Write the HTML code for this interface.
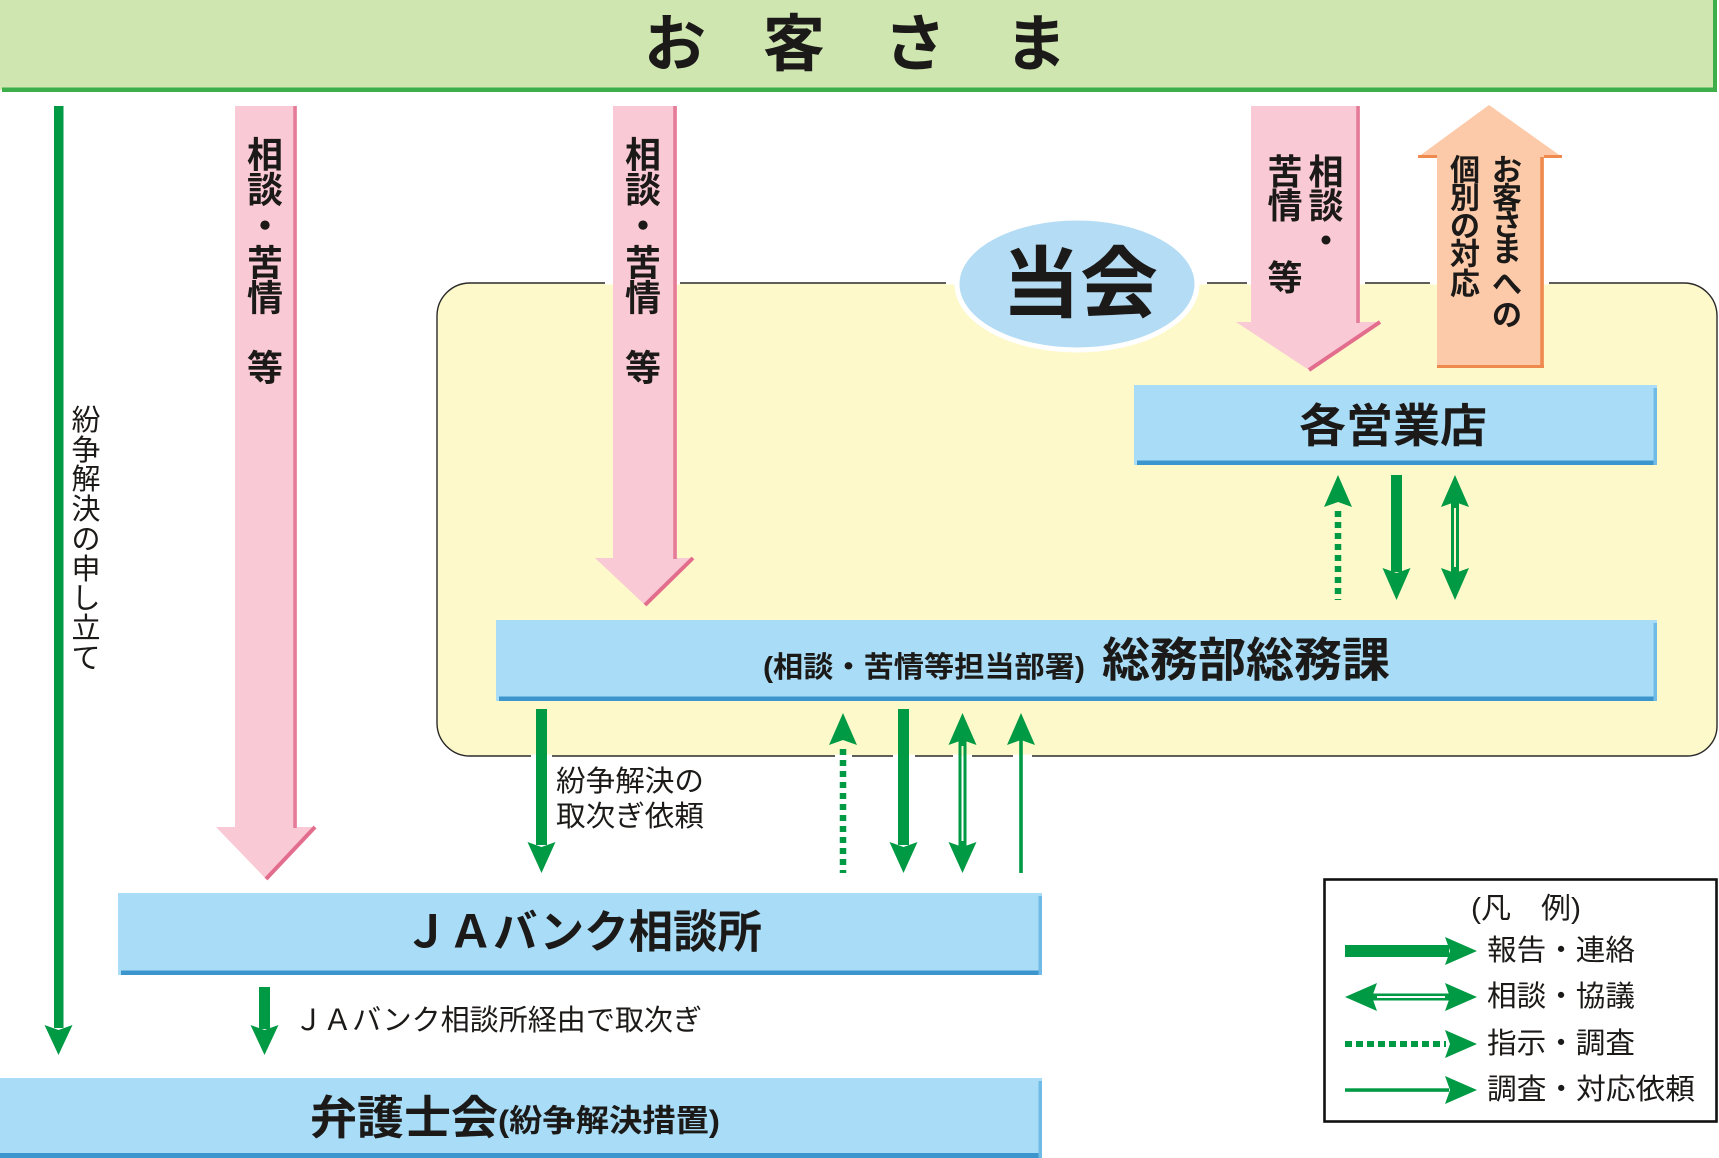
<!DOCTYPE html>
<html><head><meta charset="utf-8"><style>
html,body{margin:0;padding:0;background:#fff;}
svg{display:block;}
text{font-family:"Liberation Sans","Noto Sans CJK JP",sans-serif;fill:#1c1a18;}
.b{font-weight:700;}
</style></head><body>
<svg width="1719" height="1158" viewBox="0 0 1719 1158" xmlns="http://www.w3.org/2000/svg">
<!-- banner -->
<rect x="0" y="0" width="1716" height="90" fill="#cfe6b1"/>
<rect x="2" y="87.5" width="1715" height="4.5" fill="#3cae4a"/>
<rect x="1713" y="0" width="4" height="92" fill="#3cae4a"/>
<g class="b" font-size="62" text-anchor="middle" dominant-baseline="central">
<text x="675" y="45" class="b">お</text><text x="794" y="45" class="b">客</text><text x="915" y="45" class="b">さ</text><text x="1036" y="45" class="b">ま</text>
</g>

<!-- yellow area -->
<path d="M470,283 H1684 A33,33 0 0 1 1717,316 V726 A30,30 0 0 1 1687,756 H470 A33,33 0 0 1 437,723 V316 A33,33 0 0 1 470,283 Z" fill="#fdf9ca" stroke="#2a2a2a" stroke-width="1.4"/>
<!-- gaps in border -->
<g stroke="#ffffff" stroke-width="3">
<line x1="605" y1="283" x2="614" y2="283"/>
<line x1="677" y1="283" x2="680" y2="283"/>
<line x1="946" y1="283" x2="960" y2="283"/>
<line x1="1195" y1="283" x2="1207" y2="283"/>
<line x1="1247" y1="283" x2="1252" y2="283"/>
<line x1="1360" y1="283" x2="1365" y2="283"/>
<line x1="1430" y1="283" x2="1438" y2="283"/>
<line x1="1544" y1="283" x2="1549" y2="283"/>
<line x1="531" y1="756" x2="552" y2="756"/>
<line x1="835" y1="756" x2="852" y2="756"/>
<line x1="893" y1="756" x2="915" y2="756"/>
<line x1="953" y1="756" x2="972" y2="756"/>
<line x1="1013" y1="756" x2="1032" y2="756"/>
</g>

<!-- left green line -->
<g fill="#009944">
<rect x="54" y="106" width="9.5" height="922"/>
<polygon points="44.5,1025 58.5,1030 72.5,1025 58.5,1055"/>
</g>
<g font-size="29" text-anchor="middle" dominant-baseline="central">
<text x="86" y="421">紛</text><text x="86" y="451">争</text><text x="86" y="480">解</text><text x="86" y="510">決</text><text x="86" y="540">の</text><text x="86" y="570">申</text><text x="86" y="599">し</text><text x="86" y="629">立</text><text x="86" y="659">て</text>
</g>

<!-- pink arrow 1 -->
<polygon points="235,106 297,106 297,827 315,827 266,879 216,827 235,827" fill="#f9c9d5"/>
<line x1="295" y1="106" x2="295" y2="828" stroke="#e47b97" stroke-width="3.5"/>
<line x1="315" y1="827" x2="266" y2="879" stroke="#e26d8d" stroke-width="4"/>
<g font-size="36" text-anchor="middle" dominant-baseline="central" class="b">
<text class="b" x="265" y="155">相</text><text class="b" x="265" y="190">談</text><text class="b" x="265" y="226">・</text><text class="b" x="265" y="263">苦</text><text class="b" x="265" y="298">情</text><text class="b" x="265" y="368">等</text>
</g>

<!-- pink arrow 2 -->
<polygon points="613,106 677,106 677,558 693,558 645,605 595,558 613,558" fill="#f9c9d5"/>
<line x1="675" y1="106" x2="675" y2="559" stroke="#e47b97" stroke-width="3.5"/>
<line x1="693" y1="558" x2="645" y2="605" stroke="#e26d8d" stroke-width="4"/>
<g font-size="36" text-anchor="middle" dominant-baseline="central">
<text class="b" x="643" y="155">相</text><text class="b" x="643" y="190">談</text><text class="b" x="643" y="226">・</text><text class="b" x="643" y="263">苦</text><text class="b" x="643" y="298">情</text><text class="b" x="643" y="368">等</text>
</g>

<!-- ellipse 当会 -->
<ellipse cx="1077" cy="284" rx="120" ry="66" fill="#b4ddf5" stroke="#ffffff" stroke-width="5"/>
<text class="b" x="1080" y="284" font-size="78" text-anchor="middle" dominant-baseline="central">当会</text>

<!-- pink arrow 3 -->
<polygon points="1251,106 1360,106 1360,322 1380,322 1309,370 1236,322 1251,322" fill="#f9c9d5"/>
<line x1="1358" y1="106" x2="1358" y2="323" stroke="#e47b97" stroke-width="3.5"/>
<line x1="1380" y1="322" x2="1309" y2="370" stroke="#e26d8d" stroke-width="4"/>
<g font-size="35" text-anchor="middle" dominant-baseline="central">
<text class="b" x="1326" y="173">相</text><text class="b" x="1326" y="207">談</text><text class="b" x="1326" y="242">・</text>
<text class="b" x="1285" y="173">苦</text><text class="b" x="1285" y="207">情</text><text class="b" x="1285" y="279">等</text>
</g>

<!-- orange arrow -->
<polygon points="1489,105 1562,157 1544,157 1544,368 1437,368 1437,157 1418,157" fill="#fccaa9"/>
<line x1="1542" y1="157" x2="1542" y2="368" stroke="#ee8a4e" stroke-width="3.5"/>
<line x1="1437" y1="366.5" x2="1544" y2="366.5" stroke="#ee8a4e" stroke-width="3"/>
<line x1="1418" y1="156.5" x2="1437" y2="156.5" stroke="#ee8a4e" stroke-width="3"/>
<line x1="1544" y1="156.5" x2="1562" y2="156.5" stroke="#ee8a4e" stroke-width="3"/>
<g font-size="30" text-anchor="middle" dominant-baseline="central">
<text class="b" x="1507" y="171">お</text><text class="b" x="1507" y="199">客</text><text class="b" x="1507" y="226">さ</text><text class="b" x="1507" y="252">ま</text><text class="b" x="1507" y="285">へ</text><text class="b" x="1507" y="316">の</text>
<text class="b" x="1465" y="171">個</text><text class="b" x="1465" y="199">別</text><text class="b" x="1465" y="227">の</text><text class="b" x="1465" y="255">対</text><text class="b" x="1465" y="285">応</text>
</g>

<!-- 各営業店 -->
<rect x="1134" y="385" width="523" height="80" fill="#a9ddf7"/>
<rect x="1137" y="460.5" width="520" height="4.5" fill="#3c96cd"/>
<rect x="1653.5" y="388" width="3.5" height="77" fill="#6fbbe6"/>
<text class="b" x="1393" y="426" font-size="46" text-anchor="middle" dominant-baseline="central" textLength="188" lengthAdjust="spacingAndGlyphs">各営業店</text>

<!-- 総務部総務課 -->
<rect x="496" y="620" width="1161" height="81" fill="#a9ddf7"/>
<rect x="499" y="696.5" width="1158" height="4.5" fill="#3c96cd"/>
<rect x="1653.5" y="623" width="3.5" height="78" fill="#6fbbe6"/>
<text class="b" x="763" y="668" font-size="29" dominant-baseline="central" textLength="322" lengthAdjust="spacingAndGlyphs">(相談・苦情等担当部署)</text>
<text class="b" x="1102" y="660" font-size="47" dominant-baseline="central" textLength="288" lengthAdjust="spacingAndGlyphs">総務部総務課</text>

<!-- JAバンク相談所 -->
<rect x="118" y="893" width="924" height="82" fill="#a9ddf7"/>
<rect x="121" y="970.5" width="921" height="4.5" fill="#3c96cd"/>
<rect x="1038.5" y="896" width="3.5" height="79" fill="#6fbbe6"/>
<text class="b" x="404" y="932" font-size="45" dominant-baseline="central" textLength="358" lengthAdjust="spacingAndGlyphs">ＪＡバンク相談所</text>

<!-- 弁護士会 -->
<rect x="0" y="1078" width="1042" height="80" fill="#a9ddf7"/>
<rect x="0" y="1153" width="1042" height="5" fill="#3c96cd"/>
<rect x="1038.5" y="1081" width="3.5" height="77" fill="#6fbbe6"/>
<text class="b" x="310" y="1118" font-size="46" dominant-baseline="central" textLength="188" lengthAdjust="spacingAndGlyphs">弁護士会</text>
<text class="b" x="498" y="1121" font-size="31" dominant-baseline="central" textLength="222" lengthAdjust="spacingAndGlyphs">(紛争解決措置)</text>

<!-- green arrows upper -->
<g fill="#009944">
<polygon points="1324,507 1338,502 1352,507 1338,475"/>
<rect x="1391" y="475" width="11" height="97"/>
<polygon points="1382.5,568 1396.5,573 1410.5,568 1396.5,600"/>
<polygon points="1441,507 1455,502 1469,507 1455,475"/>
<polygon points="1441,568 1455,573 1469,568 1455,600"/>
<rect x="1451" y="502" width="8" height="71"/>
</g>
<rect x="1454" y="508" width="2" height="59" fill="#fdf9ca"/>
<line x1="1338" y1="511" x2="1338" y2="600" stroke="#009944" stroke-width="6.5" stroke-dasharray="6 5"/>

<!-- green arrows lower -->
<g fill="#009944">
<rect x="536" y="709" width="11" height="136"/>
<polygon points="527.5,842 541.5,847 555.5,842 541.5,873"/>
<polygon points="829,745 843,740 857,745 843,713"/>
<rect x="898" y="709" width="11" height="136"/>
<polygon points="889.5,842 903.5,847 917.5,842 903.5,873"/>
<polygon points="948.5,745 962.5,740 976.5,745 962.5,713"/>
<polygon points="948.5,842 962.5,847 976.5,842 962.5,873"/>
<rect x="958.5" y="740" width="8" height="107"/>
<polygon points="1007,745 1021,740 1035,745 1021,713"/>
<rect x="1019.2" y="740" width="3.6" height="133"/>
<rect x="259" y="987" width="11" height="42"/>
<polygon points="250.5,1025 264.5,1030 278.5,1025 264.5,1055"/>
</g>
<rect x="961.5" y="746" width="2" height="95" fill="#ffffff"/>
<rect x="961.5" y="746" width="2" height="10" fill="#fdf9ca"/>
<line x1="843" y1="749" x2="843" y2="873" stroke="#009944" stroke-width="6.5" stroke-dasharray="6 5"/>

<g font-size="29" dominant-baseline="central">
<text x="556" y="782" textLength="148" lengthAdjust="spacingAndGlyphs">紛争解決の</text>
<text x="556" y="817" textLength="148" lengthAdjust="spacingAndGlyphs">取次ぎ依頼</text>
<text x="294" y="1021" textLength="408" lengthAdjust="spacingAndGlyphs">ＪＡバンク相談所経由で取次ぎ</text>
</g>

<!-- legend -->
<rect x="1324.5" y="879.5" width="392" height="242" fill="#ffffff" stroke="#111" stroke-width="2.6"/>
<g font-size="29" dominant-baseline="central">
<text x="1471" y="909" textLength="110" lengthAdjust="spacingAndGlyphs">(凡　例)</text>
<text x="1487" y="951" textLength="148" lengthAdjust="spacingAndGlyphs">報告・連絡</text>
<text x="1487" y="997" textLength="148" lengthAdjust="spacingAndGlyphs">相談・協議</text>
<text x="1487" y="1044" textLength="148" lengthAdjust="spacingAndGlyphs">指示・調査</text>
<text x="1487" y="1090" textLength="208" lengthAdjust="spacingAndGlyphs">調査・対応依頼</text>
</g>
<g fill="#009944">
<rect x="1345" y="945" width="104" height="12"/>
<polygon points="1445,937 1450,951 1445,965 1477,951"/>
<polygon points="1377,983 1372,997 1377,1011 1345,997"/>
<polygon points="1445,983 1450,997 1445,1011 1477,997"/>
<rect x="1372" y="993.5" width="78" height="7"/>
<polygon points="1445,1030 1450,1044 1445,1058 1477,1044"/>
<rect x="1345" y="1088.3" width="104" height="3.5"/>
<polygon points="1445,1076 1450,1090 1445,1104 1477,1090"/>
</g>
<rect x="1377" y="996" width="68" height="2" fill="#ffffff"/>
<line x1="1345" y1="1044" x2="1446" y2="1044" stroke="#009944" stroke-width="6" stroke-dasharray="7 4"/>
</svg>
</body></html>
